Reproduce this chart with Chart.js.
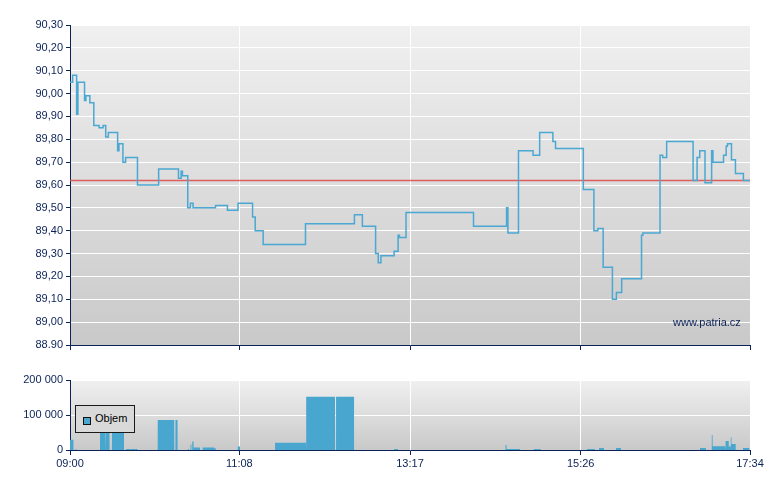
<!DOCTYPE html>
<html>
<head>
<meta charset="utf-8">
<script src="https://cdn.jsdelivr.net/npm/chart.js@4.4.1/dist/chart.umd.min.js"></script>
<style>
  body { margin: 0; background: #fff; }
  #wrap { position: relative; width: 780px; height: 490px; }
  #wrap canvas { position: absolute; left: 0; }
  #c-price { top: 0; }
  #c-vol { top: 360px; }
  .legend { position: absolute; left: 75px; top: 405px; width: 58px; height: 26px; border: 1px solid #1a1a1a; background: #d9d9d9; font: 11px Arial, "Liberation Sans", sans-serif; color: #000; }
  .legend .sw { position: absolute; left: 7px; top: 11px; width: 6px; height: 6px; border: 1px solid #111; background: #48a6cf; }
  .legend .tx { position: absolute; left: 19px; top: 6px; }
  .mark { position: absolute; left: 673px; top: 316px; font: 11px Arial, "Liberation Sans", sans-serif; color: #0b2257; }
</style>
</head>
<body>
<div id="wrap">
  <canvas id="c-price" width="780" height="360"></canvas>
  <canvas id="c-vol" width="780" height="130"></canvas>
  <div class="mark">www.patria.cz</div>
  <div class="legend"><span class="sw"></span><span class="tx">Objem</span></div>
</div>
<script>
// minutes after 09:00
const xTickMinutes = [0, 128, 257, 386, 514];

const priceMinutes = [0,2,5,6,11,12,15,18,22,25,27,29,36,37,40,42,51,67,82,84,85,89,91,93,110,119,127,138,140,146,178,215,221,231,233,235,245,248,249,254,305,330,331,339,350,355,365,367,388,396,399,403,410,413,417,432,433,446,448,451,471,474,476,480,485,486,494,496,497,500,503,509,514];
const priceValues = [90.05,90.08,89.91,90.05,89.97,89.99,89.96,89.86,89.85,89.86,89.81,89.83,89.75,89.78,89.70,89.72,89.60,89.67,89.63,89.66,89.64,89.50,89.52,89.50,89.51,89.49,89.52,89.46,89.40,89.34,89.43,89.47,89.42,89.30,89.26,89.29,89.31,89.38,89.37,89.48,89.42,89.50,89.39,89.75,89.73,89.83,89.79,89.76,89.58,89.40,89.41,89.24,89.10,89.13,89.19,89.38,89.39,89.73,89.72,89.79,89.62,89.72,89.75,89.61,89.75,89.70,89.73,89.77,89.78,89.71,89.65,89.62,89.62];
const prevClose = 89.62;

const volStart = [0,4.2,22.7,27.2,31.7,42.3,46.1,66.3,79.7,89.2,91.1,92.4,93.5,100.3,109.5,126.8,155.0,178.6,201.1,244.9,329.2,330.1,350.7,390.8,399.9,412.7,476.2,485.1,485.9,495.7,498.0,499.5,500.1,508.7];
const volEnd = [2.6,4.9,26.5,29.9,40.8,45.4,51.0,78.8,81.3,90.0,91.8,93.4,98.3,109.1,110.2,128.5,178.4,200.3,214.7,247.9,330.0,340.2,355.8,396.9,403.6,416.5,480.7,485.7,495.2,497.9,499.4,500.0,503.2,513.6];
const volValue = [29000,3000,75000,75000,90000,3000,3000,86000,86000,3000,16000,24000,7000,7000,5000,10000,21000,152000,152000,3000,14000,3000,3000,3000,6000,6000,6000,43000,11000,26000,10000,37000,17000,6000];

const NAVY = '#0b2257';
const FONT = { family: 'Arial, "Liberation Sans", sans-serif', size: 11 };

const hhmm = (m) => {
    const t = 540 + Math.round(m);
    return String(Math.floor(t / 60)).padStart(2, '0') + ':' + String(t % 60).padStart(2, '0');
};

const plotBackground = {
    id: 'plotBackground',
    beforeDraw(chart) {
        const { ctx, chartArea: a } = chart;
        const g = ctx.createLinearGradient(0, a.top, 0, a.bottom);
        g.addColorStop(0, '#f0f0f0');
        g.addColorStop(1, '#c9c9c9');
        ctx.save();
        ctx.fillStyle = g;
        ctx.fillRect(a.left, a.top, a.right - a.left, a.bottom - a.top);
        ctx.restore();
    }
};

const xScale = (showLabels, height) => ({
    type: 'linear', min: 0, max: 514,
    afterBuildTicks: s => { s.ticks = xTickMinutes.map(v => ({ value: v })); },
    afterFit: s => { s.height = height; },
    grid: { color: '#ffffff', lineWidth: 1, tickLength: 5, tickColor: NAVY },
    border: { color: NAVY, width: 1 },
    ticks: { display: showLabels, color: NAVY, font: FONT, padding: 2, maxRotation: 0, callback: v => hhmm(v) }
});

new Chart(document.getElementById('c-price'), {
    type: 'line',
    data: {
        datasets: [{
            data: priceMinutes.map((m, i) => ({ x: m, y: priceValues[i] })),
            borderColor: '#4aa8d3',
            borderWidth: 1.5,
            stepped: 'before',
            pointRadius: 0
        }, {
            data: [{ x: 0, y: prevClose }, { x: 514, y: prevClose }],
            borderColor: 'rgba(222,70,70,0.85)',
            borderWidth: 1.5,
            pointRadius: 0
        }]
    },
    options: {
        responsive: false, animation: false, devicePixelRatio: 1,
        layout: { padding: { top: 25, right: 30, left: 0, bottom: 0 } },
        plugins: { legend: { display: false }, tooltip: { enabled: false } },
        scales: {
            x: xScale(false, 15),
            y: {
                min: 88.9, max: 90.3,
                afterFit: s => { s.width = 70; },
                grid: { color: '#ffffff', lineWidth: 1, tickLength: 4, tickColor: NAVY },
                border: { color: NAVY, width: 1 },
                ticks: {
                    stepSize: 0.1, color: NAVY, font: FONT, padding: 3,
                    callback: (v, i) => i === 0 ? v.toFixed(2) : v.toFixed(2).replace('.', ',')
                }
            }
        }
    },
    plugins: [plotBackground]
});

const volPoints = [];
volValue.forEach((v, i) => {
    volPoints.push({ x: volStart[i], y: 0 }, { x: volStart[i], y: v }, { x: volEnd[i], y: v }, { x: volEnd[i], y: 0 });
});

new Chart(document.getElementById('c-vol'), {
    type: 'line',
    data: {
        datasets: [{
            label: 'Objem',
            data: volPoints,
            backgroundColor: '#48a6cf',
            borderColor: 'rgba(0,0,0,0)',
            borderWidth: 0,
            fill: 'origin',
            pointRadius: 0,
            tension: 0
        }]
    },
    options: {
        responsive: false, animation: false, devicePixelRatio: 1,
        layout: { padding: { top: 20, right: 30, left: 0, bottom: 0 } },
        plugins: { legend: { display: false }, tooltip: { enabled: false } },
        scales: {
            x: xScale(true, 40),
            y: {
                min: 0, max: 200000,
                afterFit: s => { s.width = 70; },
                grid: { color: '#ffffff', lineWidth: 1, tickLength: 4, tickColor: NAVY },
                border: { color: NAVY, width: 1 },
                ticks: {
                    stepSize: 100000, color: NAVY, font: FONT, padding: 3,
                    callback: v => String(v).replace(/\B(?=(\d{3})+(?!\d))/g, ' ')
                }
            }
        }
    },
    plugins: [plotBackground]
});
</script>
</body>
</html>
